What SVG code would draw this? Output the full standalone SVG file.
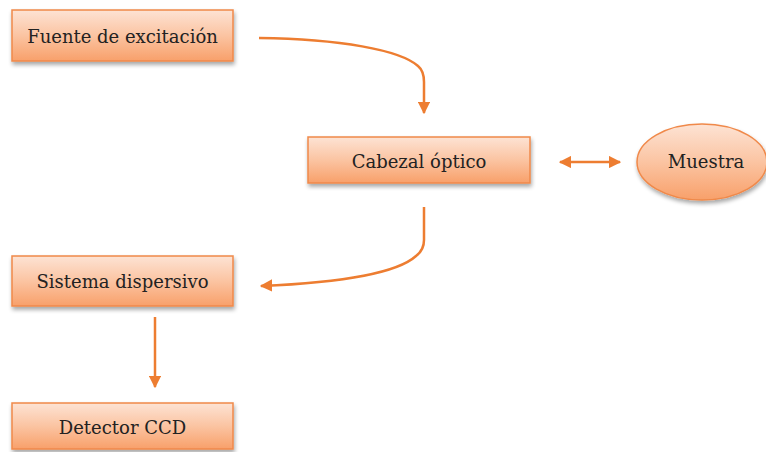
<svg xmlns="http://www.w3.org/2000/svg" width="766" height="452" viewBox="0 0 766 452">
<defs>
<linearGradient id="g" x1="0" y1="0" x2="0" y2="1">
<stop offset="0" stop-color="#fde3d4"/>
<stop offset="0.5" stop-color="#fbc4a2"/>
<stop offset="1" stop-color="#f8a06a"/>
</linearGradient>
<filter id="sh" x="-10%" y="-20%" width="125%" height="150%">
<feGaussianBlur in="SourceAlpha" stdDeviation="2"/>
<feOffset dx="1" dy="3" result="b"/>
<feComponentTransfer><feFuncA type="linear" slope="0.35"/></feComponentTransfer>
<feMerge><feMergeNode/><feMergeNode in="SourceGraphic"/></feMerge>
</filter>
<marker id="ah" viewBox="0 0 10 10" refX="9" refY="5" markerWidth="5" markerHeight="5" orient="auto-start-reverse" markerUnits="strokeWidth">
<path d="M0,0 L10,5 L0,10 z" fill="#ed7d31"/>
</marker>
</defs>
<style>
.box{fill:url(#g);stroke:#f0894a;stroke-width:1.5;filter:url(#sh)}
.t{font-family:"DejaVu Serif","Liberation Serif","Noto Serif","Latin Modern Roman","CMU Serif","Nimbus Roman","FreeSerif",Tinos,Times,serif;font-size:18px;fill:#222;text-anchor:middle;dominant-baseline:central}
.c{fill:none;stroke:#ed7d31;stroke-width:2.5;marker-end:url(#ah)}
</style>
<g id="fuente"><rect class="box" x="12" y="10" width="221" height="51"/><text class="t" x="122.5" y="36">Fuente de excitación</text></g>
<g id="cabezal"><rect class="box" x="308" y="137" width="222" height="46"/><text class="t" x="419" y="161">Cabezal óptico</text></g>
<g id="muestra"><ellipse class="box" cx="702" cy="162" rx="65" ry="38"/><text class="t" x="706" y="161">Muestra</text></g>
<g id="sistema"><rect class="box" x="12" y="256" width="221" height="50"/><text class="t" x="122.5" y="281">Sistema dispersivo</text></g>
<g id="detector"><rect class="box" x="12" y="403" width="221" height="46"/><text class="t" x="122.5" y="427">Detector CCD</text></g>
<g id="connectors">
<path class="c" d="M259,38 C340,39 400,50 418,66 Q424,71 424,82 L424,113"/>
<path class="c" d="M560,162 L620,162" style="marker-start:url(#ah)"/>
<path class="c" d="M424,207 L424,240 Q424,250 416,256 C395,275 330,283 261,286"/>
<path class="c" d="M155,317 L155,387"/>
</g>
</svg>
